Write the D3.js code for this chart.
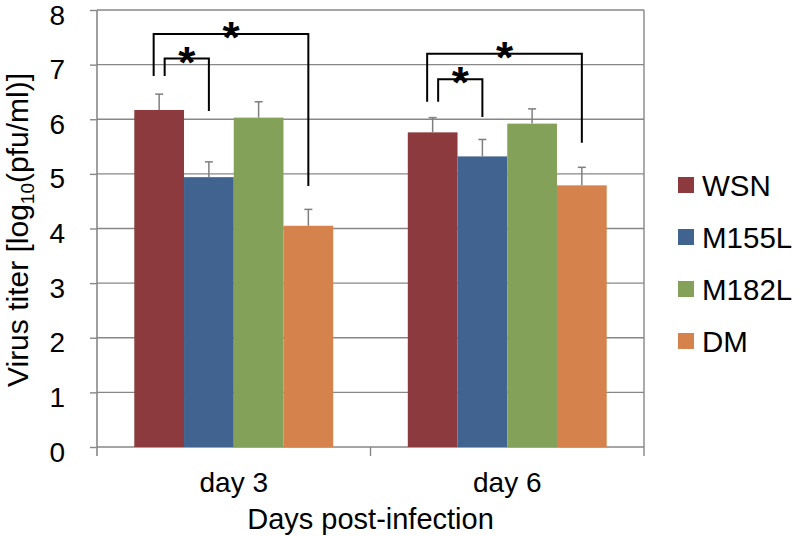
<!DOCTYPE html>
<html>
<head>
<meta charset="utf-8">
<script src="https://cdn.jsdelivr.net/npm/d3@7"></script>
<style>
  html, body { margin: 0; padding: 0; background: #fff; }
  svg text { font-family: 'Liberation Sans', Arial, sans-serif; fill: #000; }
</style>
</head>
<body>
<svg id="chart" width="800" height="536"></svg>
<script>
(function(){
'use strict';
/* globals d3 */

// categories and series
var days = ['day 3', 'day 6'];
var strains = ['WSN', 'M155L', 'M182L', 'DM'];
var strainColors = ['#8c3a3d', '#40648f', '#84a15a', '#d5824c'];

// virus titer, log10(pfu/ml), one value per strain
var titerDay3 = [6.17, 4.94, 6.03, 4.05];
var titerDay6 = [5.76, 5.32, 5.92, 4.79];
// upper error (SD)
var errDay3 = [0.29, 0.28, 0.29, 0.30];
var errDay6 = [0.27, 0.31, 0.27, 0.33];

var yTicks = [0, 1, 2, 3, 4, 5, 6, 7, 8];

// significance brackets: from/to are strain indexes,
// top/fromEnd/toEnd are in titer units
var brackets = [
    {day: 'day 3', from: 0, to: 1, inner: true,  top: 7.11, fromEnd: 6.79, toEnd: 6.15},
    {day: 'day 3', from: 0, to: 3, inner: false, top: 7.56, fromEnd: 6.79, toEnd: 4.78},
    {day: 'day 6', from: 0, to: 1, inner: true,  top: 6.73, fromEnd: 6.32, toEnd: 6.04},
    {day: 'day 6', from: 0, to: 3, inner: false, top: 7.20, fromEnd: 6.32, toEnd: 5.57}
];

var titers = [titerDay3, titerDay6];
var errors = [errDay3, errDay6];

var margin = {top: 10, right: 156, bottom: 89, left: 97};
var width = 800 - margin.left - margin.right;
var height = 536 - margin.top - margin.bottom;
var axisColor = '#878787';

var svg = d3.select('#chart');
var g = svg.append('g')
    .attr('transform', 'translate(' + margin.left + ',' + margin.top + ')');

var x0 = d3.scaleBand().domain(days).range([0, width]);
// Excel-like gap width of 150%
var x1 = d3.scaleBand().domain(strains)
    .range([0, x0.bandwidth()])
    .paddingInner(0)
    .paddingOuter(0.75);
var y = d3.scaleLinear().domain([0, 8]).range([height, 0]);

/**
 * Center of a bar
 * @param {string} day Category
 * @param {int} idx Strain index
 */
function barCenter(day, idx){
    return x0(day) + x1(strains[idx]) + x1.bandwidth() / 2;
}

// gridlines
g.append('g').selectAll('line')
    .data(yTicks.filter(function(d){ return d > 0; }))
    .enter().append('line')
    .attr('x1', 0).attr('x2', width)
    .attr('y1', function(d){ return y(d); })
    .attr('y2', function(d){ return y(d); })
    .attr('stroke', axisColor)
    .attr('stroke-width', 1.4);

// y axis
var yAxis = g.append('g')
    .call(d3.axisLeft(y).tickValues(yTicks).tickSize(7).tickPadding(25));
yAxis.select('.domain').remove();
yAxis.selectAll('.tick line').attr('stroke', axisColor).attr('stroke-width', 1.4);
yAxis.selectAll('.tick text')
    .attr('font-size', '28px')
    .attr('dy', '0.5em');

// plot frame: left and right verticals, bottom axis
g.append('line')
    .attr('x1', 0).attr('x2', 0).attr('y1', 0).attr('y2', height + 9)
    .attr('stroke', axisColor).attr('stroke-width', 1.6);
g.append('line')
    .attr('x1', width).attr('x2', width).attr('y1', 0).attr('y2', height + 9)
    .attr('stroke', axisColor).attr('stroke-width', 1.4);
g.append('line')
    .attr('x1', 0).attr('x2', width).attr('y1', height).attr('y2', height)
    .attr('stroke', axisColor).attr('stroke-width', 1.6);

// x axis ticks sit between categories
g.append('g').selectAll('line')
    .data(days.slice(1))
    .enter().append('line')
    .attr('x1', function(d){ return x0(d); })
    .attr('x2', function(d){ return x0(d); })
    .attr('y1', height).attr('y2', height + 9)
    .attr('stroke', axisColor).attr('stroke-width', 1.4);

g.append('g').selectAll('text')
    .data(days)
    .enter().append('text')
    .attr('x', function(d){ return x0(d) + x0.bandwidth() / 2; })
    .attr('y', height + 45)
    .attr('text-anchor', 'middle')
    .attr('font-size', '28px')
    .text(function(d){ return d; });

// bars
var groups = g.append('g').selectAll('g')
    .data(days)
    .enter().append('g')
    .attr('transform', function(d){ return 'translate(' + x0(d) + ',0)'; });

groups.selectAll('rect')
    .data(function(d, i){
        return strains.map(function(s, j){
            return {strain: s, value: titers[i][j], err: errors[i][j], color: strainColors[j]};
        });
    })
    .enter().append('rect')
    .attr('x', function(d){ return x1(d.strain); })
    .attr('y', function(d){ return y(d.value); })
    .attr('width', x1.bandwidth())
    .attr('height', function(d){ return height - y(d.value); })
    .attr('fill', function(d){ return d.color; });

// upper error bars
var errG = groups.selectAll('g.err')
    .data(function(d, i){
        return strains.map(function(s, j){
            return {strain: s, value: titers[i][j], err: errors[i][j]};
        });
    })
    .enter().append('g')
    .attr('class', 'err')
    .attr('stroke', '#7f7f7f')
    .attr('stroke-width', 1.5);
errG.append('line')
    .attr('x1', function(d){ return x1(d.strain) + x1.bandwidth() / 2; })
    .attr('x2', function(d){ return x1(d.strain) + x1.bandwidth() / 2; })
    .attr('y1', function(d){ return y(d.value); })
    .attr('y2', function(d){ return y(d.value + d.err); });
errG.append('line')
    .attr('x1', function(d){ return x1(d.strain) + x1.bandwidth() / 2 - 4; })
    .attr('x2', function(d){ return x1(d.strain) + x1.bandwidth() / 2 + 4; })
    .attr('y1', function(d){ return y(d.value + d.err); })
    .attr('y2', function(d){ return y(d.value + d.err); });

// significance brackets
var bG = g.append('g').selectAll('g')
    .data(brackets)
    .enter().append('g');
bG.append('path')
    .attr('fill', 'none')
    .attr('stroke', '#000')
    .attr('stroke-width', 2)
    .attr('d', function(d){
        var xa = barCenter(d.day, d.from) + (d.inner ? 5.5 : -5.5);
        var xb = barCenter(d.day, d.to);
        return 'M' + xa + ',' + y(d.fromEnd) +
            'V' + y(d.top) + 'H' + xb + 'V' + y(d.toEnd);
    });
bG.append('text')
    .attr('x', function(d){
        var xa = barCenter(d.day, d.from) + (d.inner ? 5.5 : -5.5);
        return (xa + barCenter(d.day, d.to)) / 2;
    })
    .attr('y', function(d){ return y(d.top) + 19; })
    .attr('text-anchor', 'middle')
    .attr('font-size', '44px')
    .attr('font-weight', 'bold')
    .text('*');

// y axis title
svg.append('text')
    .attr('transform', 'translate(28,230) rotate(-90)')
    .attr('text-anchor', 'middle')
    .attr('font-size', '30px')
    .call(function(t){
        t.append('tspan').text('Virus titer [log');
        t.append('tspan').attr('font-size', '19px').attr('dy', 6).text('10');
        t.append('tspan').attr('dy', -6).text('(pfu/ml)]');
    });

// x axis title
svg.append('text')
    .attr('x', margin.left + width / 2)
    .attr('y', 529)
    .attr('text-anchor', 'middle')
    .attr('font-size', '29px')
    .text('Days post-infection');

// legend
var legend = svg.append('g').selectAll('g')
    .data(strains)
    .enter().append('g')
    .attr('transform', function(d, i){ return 'translate(678,' + (185 + i * 52) + ')'; });
legend.append('rect')
    .attr('x', 0).attr('y', -8)
    .attr('width', 16).attr('height', 16)
    .attr('fill', function(d, i){ return strainColors[i]; });
legend.append('text')
    .attr('x', 24).attr('y', 10.5)
    .attr('font-size', '29.5px')
    .text(function(d){ return d; });

})();
</script>
</body>
</html>
